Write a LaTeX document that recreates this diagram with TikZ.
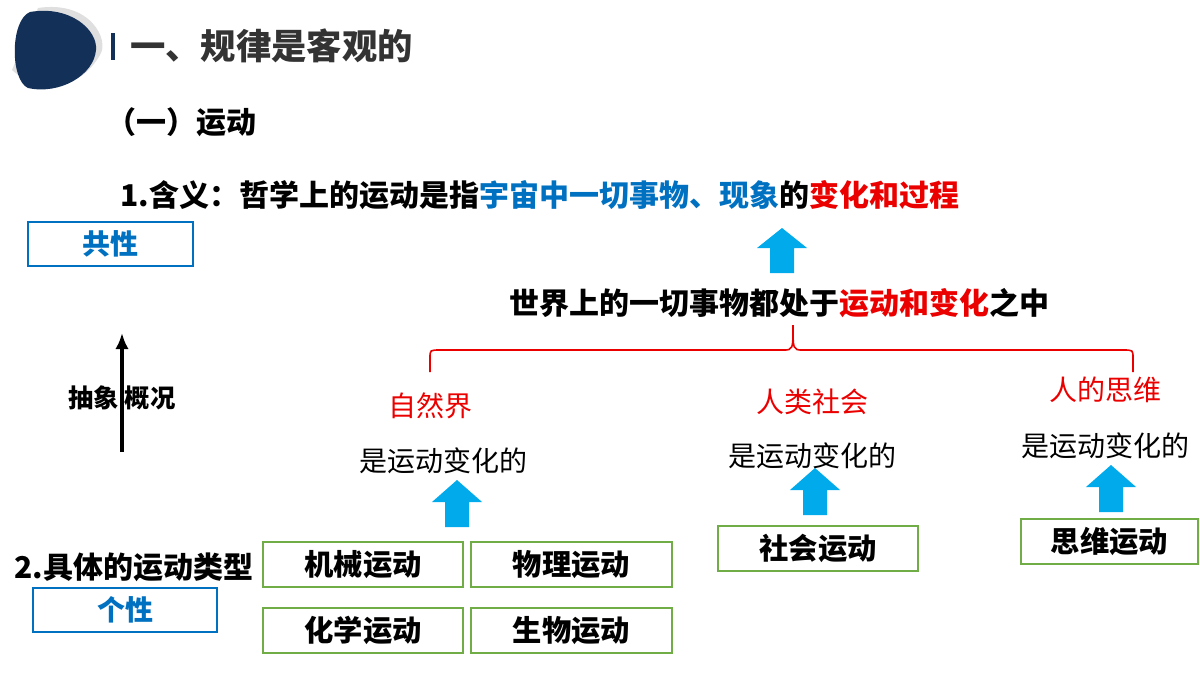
\documentclass[tikz,border=0pt]{standalone}
\usetikzlibrary{arrows.meta}
\usepackage{fontspec}
\setmainfont{Noto Sans CJK SC}
\begin{document}
\definecolor{navy}{RGB}{18,48,88}
\definecolor{tblue}{RGB}{0,112,192}
\definecolor{cyanb}{RGB}{0,170,235}
\definecolor{gbox}{RGB}{112,173,71}
\definecolor{myred}{RGB}{235,0,0}
\begin{tikzpicture}[x=0.75pt,y=-0.75pt,
 bx/.style={draw=tblue,line width=1.5pt,minimum width=#1*0.75pt,minimum height=44*0.75pt,inner sep=0pt,font=\bfseries\fontsize{21}{23}\selectfont,text=tblue},
 gb/.style={draw=gbox,line width=1pt,minimum width=#1*0.75pt,minimum height=45*0.75pt,inner sep=0pt,font=\bfseries\fontsize{22}{24}\selectfont},
 lab/.style={font=\fontsize{21}{23}\selectfont,inner sep=0pt},
 bt/.style={font=\bfseries\fontsize{22.5}{25}\selectfont,inner sep=0pt,anchor=west}]
\useasboundingbox (0,0) rectangle (1200,675);
% logo
\fill[gray!25] (38,8) .. controls (90,0) and (110,40) .. (100,55) .. controls (80,90) and (40,95) .. (12,70) -- cycle;
\fill[navy] (30,12) .. controls (70,5) and (98,30) .. (96,50) .. controls (94,75) and (60,95) .. (28,88) .. controls (10,80) and (10,20) .. (30,12) -- cycle;
\fill[navy] (111,33) rectangle (115,60);
\node[bt,font=\bfseries\fontsize{26.5}{28}\selectfont,text=black!80] (t) at (130,46) {一、规律是客观的};
\node[bt] (s) at (106,122) {（一）运动};
\node[bt] (d) at (120,195) {1.含义：哲学上的运动是指\textcolor{tblue}{宇宙中一切事物、现象}的\textcolor{myred}{变化和过程}};
\node[bx=165] (gx) at (110.5,244) {共性};
\fill[cyanb] (770,273) -- (770,248) -- (757,248) -- (782,228) -- (807,248) -- (794,248) -- (794,273) -- cycle;
\node[bt,anchor=center] (w) at (779,303) {世界上的一切事物都处于\textcolor{myred}{运动和变化}之中};
\draw[myred,line width=1.2pt] (430,372) -- (430,358) .. controls (430,350) .. (440,350) -- (783,350) .. controls (793,350) .. (793,325) .. controls (793,350) .. (803,350) -- (1123,350) .. controls (1133,350) .. (1133,358) -- (1133,372);
\node[font=\bfseries\fontsize{19}{21}\selectfont,inner sep=0pt] (cx) at (122,398) {抽象 概况};
\coordinate (a1) at (122,452); \coordinate (a2) at (122,333);
\draw[line width=2.5pt,-{Latex[length=12pt,width=10pt]}] (a1) -- (a2);
\node[lab,text=myred] (n1) at (430,406) {自然界};
\node[lab,text=myred] (n2) at (812,402) {人类社会};
\node[lab,text=myred] (n3) at (1105,390) {人的思维};
\node[lab] (m1) at (443,461) {是运动变化的};
\node[lab] (m2) at (812,456) {是运动变化的};
\node[lab] (m3) at (1105,446) {是运动变化的};
\foreach \x/\y in {457/480,815/468,1111/465}{
 \fill[cyanb] (\x-12,\y+47) -- (\x-12,\y+22) -- (\x-25,\y+22) -- (\x,\y) -- (\x+25,\y+22) -- (\x+12,\y+22) -- (\x+12,\y+47) -- cycle;}
\node[gb=200] (g1) at (363,564.5) {机械运动};
\node[gb=201] (g2) at (571.5,564.5) {物理运动};
\node[gb=200] (g3) at (363,630.5) {化学运动};
\node[gb=201] (g4) at (571.5,630.5) {生物运动};
\node[gb=200] (g5) at (818,548.5) {社会运动};
\node[gb=177] (g6) at (1109.5,541.5) {思维运动};
\node[bt] (k) at (14,567) {2.具体的运动类型};
\node[bx=184] (gx2) at (125,609.5) {个性};
\end{tikzpicture}
\end{document}
